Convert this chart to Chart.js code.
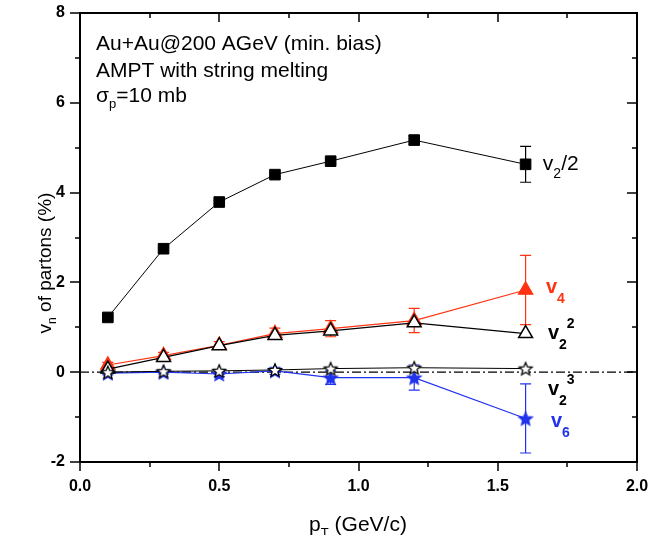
<!DOCTYPE html>
<html><head><meta charset="utf-8">
<script src="https://cdn.jsdelivr.net/npm/chart.js@4"></script>
<style>html,body{margin:0;padding:0;background:#fff;}canvas{display:block;}</style>
</head><body>
<canvas id="c" width="672" height="535"></canvas>
<script>
// ---- data ----
const pt = [0.1, 0.3, 0.5, 0.7, 0.9, 1.2, 1.6];
const v2half = [1.22, 2.75, 3.79, 4.40, 4.70, 5.17, 4.63];
const v2halfErr = [0.03, 0.03, 0.03, 0.04, 0.05, 0.1, 0.4];
const v4 = [0.16, 0.37, 0.60, 0.86, 0.97, 1.15, 1.83];
const v4Err = [0.06, 0.07, 0.08, 0.12, 0.18, 0.27, 0.77];
const v2sq = [0.07, 0.33, 0.59, 0.82, 0.92, 1.10, 0.86];
const v2cube = [0.00, 0.02, 0.03, 0.05, 0.08, 0.10, 0.08];
const v6 = [-0.02, 0.00, -0.04, 0.03, -0.12, -0.12, -1.03];
const v6Err = [0.04, 0.04, 0.06, 0.08, 0.15, 0.28, 0.77];
const zeroX = [0, 2];
const zeroY = [0, 0];
const xTickLabels = ['0.0', '0.5', '1.0', '1.5', '2.0'];
const yTickLabels = ['-2', '0', '2', '4', '6', '8'];
const annotation = ['Au+Au@200 AGeV (min. bias)', 'AMPT with string melting'];

const RED = '#ff3311', BLUE = '#2233ee';
const FONT = '"Liberation Sans", Arial, sans-serif';

function pts(xs, ys) { return xs.map((x, i) => ({x: x, y: ys[i]})); }

function starCanvas(fill, stroke, r) {
  const s = Math.ceil(r * 2 + 4);
  const c = document.createElement('canvas');
  c.width = s; c.height = s;
  const g = c.getContext('2d');
  g.beginPath();
  const cy = s / 2 + r * 0.1;
  for (let i = 0; i < 10; i++) {
    const rr = i % 2 === 0 ? r : r * 0.45;
    const a = -Math.PI / 2 + i * Math.PI / 5;
    const px = s / 2 + rr * Math.cos(a), py = cy + rr * Math.sin(a);
    if (i === 0) g.moveTo(px, py); else g.lineTo(px, py);
  }
  g.closePath();
  g.fillStyle = fill; g.fill();
  g.lineWidth = 1.3; g.strokeStyle = stroke; g.stroke();
  return c;
}
const openStar = starCanvas('#ffffff', '#000000', 6.8);
const blueStar = starCanvas(BLUE, BLUE, 7);

const errMap = {};
errMap['v2/2'] = v2halfErr;
errMap['v4'] = v4Err;
errMap['v6'] = v6Err;

const errPlugin = {
  id: 'errbars',
  beforeDatasetsDraw(chart) {
    const ctx = chart.ctx, ys = chart.scales.y;
    chart.data.datasets.forEach((ds, di) => {
      const errs = errMap[ds.label];
      if (!errs) return;
      const meta = chart.getDatasetMeta(di);
      ctx.save();
      ctx.strokeStyle = ds.borderColor;
      ctx.lineWidth = 1.2;
      meta.data.forEach((p, i) => {
        const v = ds.data[i].y, e = errs[i];
        const y1 = ys.getPixelForValue(v + e), y2 = ys.getPixelForValue(v - e);
        const x = p.x;
        ctx.beginPath();
        ctx.moveTo(x, y1); ctx.lineTo(x, y2);
        ctx.moveTo(x - 5.5, y1); ctx.lineTo(x + 5.5, y1);
        ctx.moveTo(x - 5.5, y2); ctx.lineTo(x + 5.5, y2);
        ctx.stroke();
      });
      ctx.restore();
    });
  }
};

function drawSubText(ctx, parts, x, y, align) {
  let w = 0;
  parts.forEach(p => { ctx.font = p.font; p.w = ctx.measureText(p.t).width; w += p.w + (p.gap || 0); });
  let cx = align === 'center' ? x - w / 2 : x;
  parts.forEach(p => {
    ctx.font = p.font;
    cx += (p.gap || 0);
    ctx.fillText(p.t, cx, y + (p.dy || 0));
    cx += p.w;
  });
}

const framePlugin = {
  id: 'frame',
  afterDraw(chart) {
    const ctx = chart.ctx, a = chart.chartArea, xs = chart.scales.x, ys = chart.scales.y;
    ctx.save();
    ctx.strokeStyle = '#000';
    ctx.lineWidth = 2;
    ctx.strokeRect(a.left, a.top, a.right - a.left, a.bottom - a.top);
    ctx.lineWidth = 1.5;
    ctx.beginPath();
    for (let v = 0; v <= 2.0001; v += 0.25) {
      const x = Math.round(xs.getPixelForValue(v));
      const major = Math.abs(v * 2 - Math.round(v * 2)) < 1e-6;
      const L = major ? 9 : 5;
      ctx.moveTo(x, a.bottom); ctx.lineTo(x, a.bottom + L);
      ctx.moveTo(x, a.top); ctx.lineTo(x, a.top + L);
    }
    for (let v = -2; v <= 8; v += 1) {
      const y = Math.round(ys.getPixelForValue(v));
      const major = v % 2 === 0;
      const L = major ? 10 : 5;
      ctx.moveTo(a.left, y); ctx.lineTo(a.left - L, y);
      ctx.moveTo(a.right, y); ctx.lineTo(a.right - L, y);
    }
    ctx.stroke();

    // axis titles
    ctx.fillStyle = '#000';
    ctx.textBaseline = 'alphabetic';
    drawSubText(ctx, [
      {t: 'p', font: '21px ' + FONT}, {t: 'T', font: '13px ' + FONT, dy: 6}, {t: ' (GeV/c)', font: '21px ' + FONT}
    ], 358, 531, 'center');
    ctx.save();
    ctx.translate(51, 263);
    ctx.rotate(-Math.PI / 2);
    drawSubText(ctx, [
      {t: 'v', font: '19px ' + FONT}, {t: 'n', font: '12px ' + FONT, dy: 5}, {t: ' of partons (%)', font: '19px ' + FONT}
    ], 0, 0, 'center');
    ctx.restore();

    // annotation text
    const af = '21px ' + FONT;
    ctx.font = af;
    ctx.fillText(annotation[0], 96, 50);
    ctx.fillText(annotation[1], 96, 77);
    drawSubText(ctx, [
      {t: '\u03C3', font: af}, {t: 'p', font: '13px ' + FONT, dy: 6}, {t: '=10 mb', font: af}
    ], 96, 102, 'left');

    // series labels (anchored in data units)
    const lf = 'bold 20px ' + FONT, lsf = 'bold 14px ' + FONT;
    const P = (x, y) => [xs.getPixelForValue(x), ys.getPixelForValue(y)];
    let q;
    ctx.fillStyle = '#000';
    q = P(1.662, 4.5);
    drawSubText(ctx, [{t: 'v', font: '21px ' + FONT}, {t: '2', font: '14px ' + FONT, dy: 8}, {t: '/2', font: '21px ' + FONT}], q[0], q[1], 'left');
    ctx.fillStyle = RED;
    q = P(1.673, 1.76);
    drawSubText(ctx, [{t: 'v', font: lf}, {t: '4', font: lsf, dy: 10}], q[0], q[1], 'left');
    ctx.fillStyle = '#000';
    q = P(1.68, 0.73);
    drawSubText(ctx, [{t: 'v', font: lf}, {t: '2', font: lsf, dy: 10}, {t: '2', font: lsf, dy: -11}], q[0], q[1], 'left');
    q = P(1.68, -0.51);
    drawSubText(ctx, [{t: 'v', font: lf}, {t: '2', font: lsf, dy: 10}, {t: '3', font: lsf, dy: -11}], q[0], q[1], 'left');
    ctx.fillStyle = BLUE;
    q = P(1.691, -1.22);
    drawSubText(ctx, [{t: 'v', font: lf}, {t: '6', font: lsf, dy: 10}], q[0], q[1], 'left');
    ctx.restore();
  }
};

new Chart(document.getElementById('c'), {
  type: 'scatter',
  data: {
    datasets: [
      {label: 'v2^3', data: pts(pt, v2cube), showLine: true, borderColor: '#000', backgroundColor: '#fff',
       borderWidth: 1, pointStyle: openStar, pointRadius: 7},
      {label: 'v2^2', data: pts(pt, v2sq), showLine: true, borderColor: '#000', backgroundColor: '#fff',
       borderWidth: 1.2, pointStyle: 'triangle', pointRadius: 8, pointBorderWidth: 1.5},
      {label: 'v2/2', data: pts(pt, v2half), showLine: true, borderColor: '#000', backgroundColor: '#000',
       borderWidth: 1, pointStyle: 'rect', pointRadius: 7.5},
      {label: 'v6', data: pts(pt, v6), showLine: true, borderColor: BLUE, backgroundColor: BLUE,
       borderWidth: 1.2, pointStyle: blueStar, pointRadius: 7},
      {label: 'v4', data: pts(pt, v4), showLine: true, borderColor: RED, backgroundColor: RED,
       borderWidth: 1.2, pointStyle: 'triangle', pointRadius: 8.3},
      {label: 'zero', data: pts(zeroX, zeroY), showLine: true, borderColor: '#000', borderWidth: 1.2,
       borderDash: [9, 3, 2, 3], pointRadius: 0}
    ]
  },
  options: {
    responsive: false,
    animation: false,
    devicePixelRatio: 1,
    layout: {padding: {left: 0, right: 35, top: 13, bottom: 0}},
    plugins: {legend: {display: false}, tooltip: {enabled: false}},
    scales: {
      x: {
        type: 'linear', min: 0, max: 2,
        grid: {display: false, drawTicks: false},
        border: {display: false},
        afterFit: s => { s.height = 73; s.paddingLeft = 0; s.paddingRight = 0; },
        afterBuildTicks: s => { s.ticks = xTickLabels.map(t => ({value: parseFloat(t)})); },
        ticks: {padding: 15, color: '#000', font: {family: FONT, size: 16, weight: 'bold'},
          callback: v => xTickLabels.find(t => parseFloat(t) === v) || ''}
      },
      y: {
        type: 'linear', min: -2, max: 8,
        grid: {display: false, drawTicks: false},
        border: {display: false},
        afterFit: s => { s.width = 80; s.paddingTop = 0; s.paddingBottom = 0; },
        afterBuildTicks: s => { s.ticks = yTickLabels.map(t => ({value: parseFloat(t)})); },
        ticks: {padding: 15, color: '#000', font: {family: FONT, size: 16, weight: 'bold'},
          callback: v => yTickLabels.find(t => parseFloat(t) === v) || ''}
      }
    }
  },
  plugins: [errPlugin, framePlugin]
});
</script>
</body></html>
